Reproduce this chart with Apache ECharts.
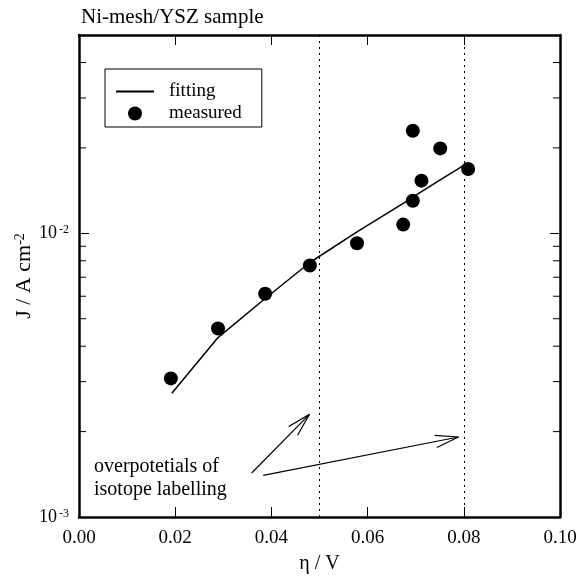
<!DOCTYPE html>
<html>
<head>
<meta charset="utf-8">
<script src="https://cdn.jsdelivr.net/npm/echarts@6/dist/echarts.min.js"></script>
<style>html,body{margin:0;padding:0;background:#fff;}#c{width:584px;height:579px;}</style>
</head>
<body>
<div id="c"></div>
<script>
// ---- data ----
const etaMeasured = [0.0191, 0.0289, 0.0387, 0.0480, 0.0578, 0.0674, 0.0694, 0.0694, 0.0712, 0.0751, 0.0809];
const jMeasured   = [0.00308, 0.00462, 0.00612, 0.00770, 0.00922, 0.01073, 0.01303, 0.02299, 0.01533, 0.01992, 0.01685];
const etaFit = [0.0193, 0.0289, 0.0387, 0.0480, 0.0578, 0.0674, 0.0712, 0.0751, 0.0799];
const jFit   = [0.00273, 0.00429, 0.00589, 0.00789, 0.01011, 0.01276, 0.01403, 0.01542, 0.01731];
const labelEta = [0.0495, 0.08];           // dotted vertical lines
const arrowFrom = [[0.0359, 0.001429], [0.0383, 0.001402]];
const arrowTo   = [[0.0479, 0.00230], [0.0789, 0.001914]];
const yMinorTicks = [0.002, 0.003, 0.004, 0.005, 0.006, 0.007, 0.008, 0.009, 0.02, 0.03, 0.04];
const titleText = 'Ni-mesh/YSZ sample';
const noteLines = ['overpotetials of', 'isotope labelling'];

const FONT = '"Liberation Serif", "DejaVu Serif", serif';
const chart = echarts.init(document.getElementById('c'), null, {renderer: 'canvas'});

function yLabel(v) {
  const e = Math.log10(v);
  const r = Math.round(e);
  if (Math.abs(e - r) > 1e-6) return '';
  return '{b|10}{s|' + r + '}';
}

const axisLineStyle = {color: '#000', width: 2.5};
const xAxisBase = {
  type: 'value', min: 0, max: 0.1, interval: 0.02,
  axisLine: {show: true, onZero: false, lineStyle: axisLineStyle},
  axisTick: {show: true, inside: true, length: 10, lineStyle: {color: '#000', width: 1}},
  splitLine: {show: false}
};
const yAxisBase = {
  type: 'log', logBase: 10, min: 0.001, max: 0.05, interval: 1,
  axisLine: {show: true, onZero: false, lineStyle: axisLineStyle},
  axisTick: {show: true, inside: true, length: 10, lineStyle: {color: '#000', width: 1}},
  splitLine: {show: false}
};

const option = {
  backgroundColor: '#fff',
  animation: false,
  title: {
    text: titleText, left: 76, top: 2,
    textStyle: {fontFamily: FONT, fontSize: 21, fontWeight: 'normal', color: '#000'}
  },
  grid: {left: 79, right: 24, top: 35, bottom: 62, containLabel: false, outerBoundsMode: 'none'},
  legend: {
    data: [{name: 'fitting', itemStyle: {opacity: 0}}, 'measured'],
    orient: 'vertical', left: 105, top: 69,
    itemWidth: 38, itemHeight: 14, itemGap: 3,
    padding: [13, 20, 4, 10],
    borderColor: '#000', borderWidth: 1,
    textStyle: {fontFamily: FONT, fontSize: 19, lineHeight: 19, color: '#000', padding: [0, 0, 0, 10]},
    selectedMode: false
  },
  xAxis: [
    Object.assign({}, xAxisBase, {
      position: 'bottom',
      axisLabel: {show: true, margin: 12, color: '#000', fontFamily: FONT, fontSize: 19,
        formatter: (v) => v.toFixed(2)},
      name: 'η / V', nameLocation: 'middle', nameGap: 37,
      nameTextStyle: {fontFamily: FONT, fontSize: 20, color: '#000'}
    }),
    Object.assign({}, xAxisBase, {position: 'top', axisLabel: {show: false}})
  ],
  yAxis: [
    Object.assign({}, yAxisBase, {
      position: 'left',
      axisLabel: {show: true, margin: 10, color: '#000', formatter: yLabel,
        rich: {
          b: {fontFamily: FONT, fontSize: 18, color: '#000'},
          s: {fontFamily: FONT, fontSize: 12, color: '#000', verticalAlign: 'top', padding: [0, 0, 0, 2]}
        }},
      name: '{n|J / A cm}{s|-2}', nameLocation: 'middle', nameGap: 44, nameRotate: 90,
      nameMoveOverlap: false,
      nameTextStyle: {
        rich: {
          n: {fontFamily: FONT, fontSize: 22, color: '#000'},
          s: {fontFamily: FONT, fontSize: 14, color: '#000', verticalAlign: 'top'}
        }
      }
    }),
    Object.assign({}, yAxisBase, {position: 'right', axisLabel: {show: false}})
  ],
  graphic: [{
    type: 'text', left: 94, top: 455, silent: true,
    style: {text: noteLines.join('\n'), fontFamily: FONT, fontSize: 20, lineHeight: 23, fill: '#000'}
  }],
  series: [
    {
      type: 'custom', name: 'minorTicks', silent: true, z: 5,
      xAxisIndex: 0, yAxisIndex: 0,
      data: yMinorTicks.map(v => [0, v]),
      renderItem: function (params, api) {
        const v = api.value(1);
        const l = api.coord([0, v]);
        const r = api.coord([0.1, v]);
        const st = {stroke: '#000', lineWidth: 1};
        return {type: 'group', children: [
          {type: 'line', shape: {x1: l[0], y1: l[1], x2: l[0] + 7, y2: l[1]}, style: st},
          {type: 'line', shape: {x1: r[0], y1: r[1], x2: r[0] - 7, y2: r[1]}, style: st}
        ]};
      }
    },
    {
      type: 'line', name: 'fitting', symbol: 'none', showSymbol: false, z: 3,
      data: etaFit.map((x, i) => [x, jFit[i]]),
      lineStyle: {color: '#000', width: 1.5},
      itemStyle: {color: '#000'}
    },
    {
      type: 'scatter', name: 'measured', symbol: 'circle', symbolSize: 14, z: 4,
      data: etaMeasured.map((x, i) => [x, jMeasured[i]]),
      itemStyle: {color: '#000', opacity: 1},
      markLine: {
        silent: true, symbol: ['none', 'none'],
        label: {show: false},
        lineStyle: {color: '#000', width: 1, type: [2, 4]},
        data: labelEta.map(x => ({xAxis: x}))
      }
    },
    {
      type: 'custom', name: 'arrows', silent: true, z: 5,
      data: arrowFrom.map((a, i) => [a[0], a[1], arrowTo[i][0], arrowTo[i][1]]),
      encode: {x: [0, 2], y: [1, 3]},
      renderItem: function (params, api) {
        const s = api.coord([api.value(0), api.value(1)]);
        const e = api.coord([api.value(2), api.value(3)]);
        const ang = Math.atan2(s[1] - e[1], s[0] - e[0]);
        const L = 24, h = 15 * Math.PI / 180;
        const st = {stroke: '#000', lineWidth: 1.2};
        return {type: 'group', children: [
          {type: 'line', shape: {x1: s[0], y1: s[1], x2: e[0], y2: e[1]}, style: st},
          {type: 'line', shape: {x1: e[0], y1: e[1], x2: e[0] + L * Math.cos(ang + h), y2: e[1] + L * Math.sin(ang + h)}, style: st},
          {type: 'line', shape: {x1: e[0], y1: e[1], x2: e[0] + L * Math.cos(ang - h), y2: e[1] + L * Math.sin(ang - h)}, style: st}
        ]};
      }
    }
  ]
};
chart.setOption(option);
</script>
</body>
</html>
